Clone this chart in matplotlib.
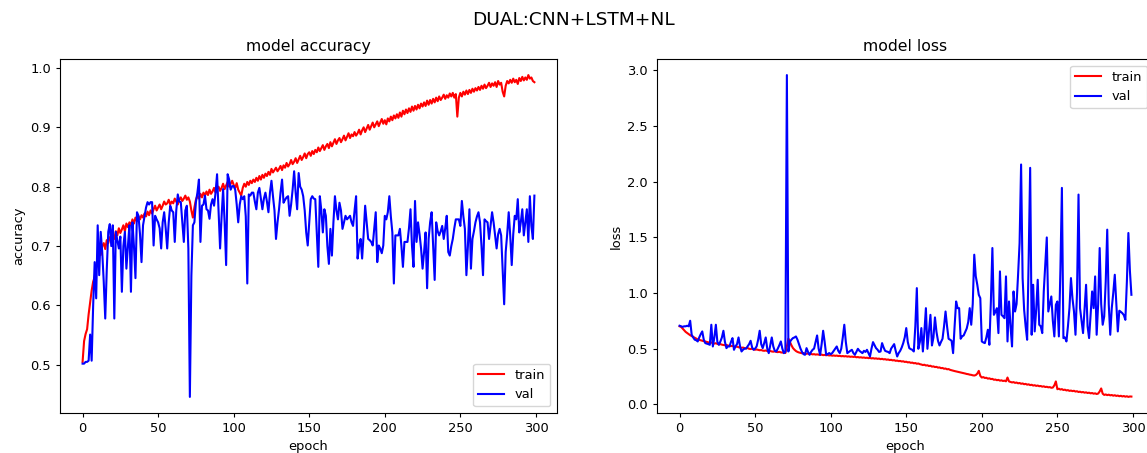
import numpy as np
import matplotlib
matplotlib.use('Agg')
import matplotlib.pyplot as plt

# accuracy per epoch
acc_train = [
    0.505, 0.540, 0.552, 0.560, 0.585, 0.605, 0.625, 0.640, 0.648, 0.665,
    0.680, 0.690, 0.685, 0.700, 0.705, 0.695, 0.710, 0.705, 0.715, 0.712,
    0.720, 0.712, 0.725, 0.718, 0.730, 0.722, 0.728, 0.735, 0.725, 0.738,
    0.732, 0.740, 0.735, 0.745, 0.738, 0.748, 0.742, 0.750, 0.745, 0.752,
    0.748, 0.755, 0.750, 0.758, 0.752, 0.760, 0.755, 0.762, 0.768, 0.760,
    0.765, 0.770, 0.762, 0.768, 0.775, 0.770, 0.772, 0.778, 0.770, 0.775,
    0.772, 0.780, 0.775, 0.770, 0.778, 0.782, 0.776, 0.780, 0.785, 0.778,
    0.782, 0.775, 0.760, 0.748, 0.765, 0.778, 0.785, 0.780, 0.788, 0.782,
    0.790, 0.785, 0.792, 0.786, 0.795, 0.788, 0.792, 0.798, 0.790, 0.796,
    0.800, 0.793, 0.798, 0.805, 0.796, 0.802, 0.808, 0.800, 0.805, 0.810,
    0.803, 0.798, 0.806, 0.795, 0.790, 0.785, 0.798, 0.805, 0.800, 0.808,
    0.803, 0.810, 0.806, 0.812, 0.808, 0.815, 0.810, 0.818, 0.812, 0.820,
    0.815, 0.822, 0.818, 0.825, 0.820, 0.830, 0.824, 0.828, 0.832, 0.826,
    0.830, 0.835, 0.828, 0.836, 0.832, 0.840, 0.834, 0.838, 0.845, 0.838,
    0.842, 0.848, 0.840, 0.846, 0.852, 0.845, 0.850, 0.856, 0.848, 0.855,
    0.858, 0.852, 0.860, 0.855, 0.862, 0.858, 0.866, 0.860, 0.865, 0.870,
    0.862, 0.868, 0.872, 0.865, 0.875, 0.868, 0.874, 0.880, 0.872, 0.878,
    0.882, 0.875, 0.880, 0.886, 0.878, 0.884, 0.890, 0.882, 0.888, 0.885,
    0.892, 0.886, 0.890, 0.896, 0.888, 0.895, 0.900, 0.892, 0.898, 0.904,
    0.896, 0.902, 0.908, 0.900, 0.905, 0.910, 0.902, 0.908, 0.914, 0.906,
    0.912, 0.905, 0.915, 0.910, 0.918, 0.912, 0.920, 0.915, 0.922, 0.916,
    0.925, 0.918, 0.928, 0.922, 0.930, 0.924, 0.932, 0.926, 0.935, 0.928,
    0.936, 0.930, 0.938, 0.932, 0.940, 0.935, 0.942, 0.936, 0.945, 0.938,
    0.946, 0.940, 0.948, 0.942, 0.950, 0.944, 0.952, 0.946, 0.950, 0.955,
    0.948, 0.954, 0.950, 0.957, 0.952, 0.958, 0.950, 0.956, 0.918, 0.950,
    0.958, 0.952, 0.960, 0.955, 0.962, 0.956, 0.963, 0.958, 0.965, 0.960,
    0.966, 0.962, 0.968, 0.963, 0.970, 0.965, 0.972, 0.966, 0.970, 0.975,
    0.968, 0.974, 0.970, 0.976, 0.968, 0.978, 0.972, 0.975, 0.960, 0.952,
    0.970, 0.978, 0.974, 0.980, 0.975, 0.982, 0.976, 0.980, 0.973, 0.983,
    0.978, 0.985, 0.979, 0.984, 0.980, 0.988, 0.982, 0.984, 0.978, 0.976,
]
acc_val = [
    0.502, 0.502, 0.505, 0.505, 0.507, 0.551, 0.507, 0.600, 0.673, 0.612,
    0.735, 0.651, 0.724, 0.690, 0.640, 0.578, 0.660, 0.724, 0.737, 0.700,
    0.735, 0.578, 0.724, 0.710, 0.696, 0.716, 0.623, 0.700, 0.724, 0.662,
    0.700, 0.735, 0.623, 0.740, 0.700, 0.646, 0.757, 0.751, 0.720, 0.673,
    0.735, 0.750, 0.765, 0.774, 0.770, 0.774, 0.774, 0.701, 0.751, 0.745,
    0.740, 0.730, 0.696, 0.740, 0.757, 0.730, 0.696, 0.740, 0.768, 0.760,
    0.757, 0.707, 0.760, 0.787, 0.775, 0.774, 0.740, 0.707, 0.760, 0.768,
    0.696, 0.446, 0.650, 0.735, 0.740, 0.774, 0.790, 0.812, 0.707, 0.768,
    0.770, 0.785, 0.762, 0.760, 0.746, 0.770, 0.779, 0.768, 0.790, 0.821,
    0.760, 0.696, 0.750, 0.796, 0.740, 0.668, 0.821, 0.812, 0.795, 0.801,
    0.801, 0.795, 0.770, 0.740, 0.770, 0.784, 0.779, 0.784, 0.750, 0.637,
    0.787, 0.785, 0.790, 0.790, 0.775, 0.762, 0.790, 0.798, 0.780, 0.762,
    0.780, 0.790, 0.775, 0.757, 0.790, 0.810, 0.784, 0.760, 0.712, 0.740,
    0.762, 0.790, 0.812, 0.773, 0.778, 0.782, 0.784, 0.751, 0.770, 0.795,
    0.826, 0.790, 0.762, 0.823, 0.800, 0.795, 0.784, 0.760, 0.723, 0.701,
    0.740, 0.779, 0.784, 0.780, 0.779, 0.720, 0.665, 0.784, 0.760, 0.723,
    0.762, 0.751, 0.700, 0.670, 0.729, 0.684, 0.740, 0.784, 0.760, 0.745,
    0.773, 0.760, 0.729, 0.740, 0.751, 0.745, 0.748, 0.751, 0.740, 0.734,
    0.760, 0.784, 0.679, 0.700, 0.712, 0.679, 0.720, 0.768, 0.740, 0.712,
    0.710, 0.707, 0.701, 0.730, 0.757, 0.673, 0.701, 0.696, 0.688, 0.701,
    0.751, 0.745, 0.757, 0.784, 0.750, 0.723, 0.637, 0.718, 0.718, 0.718,
    0.729, 0.700, 0.665, 0.707, 0.707, 0.707, 0.730, 0.762, 0.700, 0.665,
    0.776, 0.707, 0.740, 0.720, 0.696, 0.662, 0.690, 0.723, 0.629, 0.712,
    0.740, 0.757, 0.700, 0.643, 0.740, 0.725, 0.718, 0.725, 0.734, 0.712,
    0.730, 0.751, 0.690, 0.684, 0.700, 0.712, 0.730, 0.745, 0.745, 0.745,
    0.734, 0.776, 0.750, 0.729, 0.651, 0.700, 0.762, 0.662, 0.712, 0.725,
    0.740, 0.750, 0.757, 0.740, 0.700, 0.651, 0.745, 0.742, 0.740, 0.712,
    0.735, 0.757, 0.740, 0.718, 0.696, 0.720, 0.729, 0.718, 0.660, 0.602,
    0.690, 0.720, 0.757, 0.718, 0.668, 0.720, 0.751, 0.745, 0.779, 0.723,
    0.740, 0.762, 0.718, 0.740, 0.762, 0.707, 0.784, 0.734, 0.712, 0.785,
]

# loss per epoch
loss_train = [
    0.700, 0.695, 0.680, 0.665, 0.650, 0.640, 0.630, 0.620, 0.612, 0.605,
    0.598, 0.590, 0.582, 0.578, 0.575, 0.570, 0.566, 0.563, 0.560, 0.556,
    0.552, 0.555, 0.548, 0.545, 0.548, 0.542, 0.538, 0.540, 0.535, 0.532,
    0.530, 0.533, 0.527, 0.525, 0.522, 0.524, 0.518, 0.515, 0.518, 0.512,
    0.510, 0.507, 0.509, 0.504, 0.502, 0.505, 0.498, 0.496, 0.499, 0.493,
    0.490, 0.492, 0.488, 0.485, 0.487, 0.482, 0.480, 0.483, 0.478, 0.476,
    0.478, 0.474, 0.472, 0.475, 0.470, 0.468, 0.471, 0.466, 0.464, 0.466,
    0.460, 0.520, 0.590, 0.560, 0.530, 0.505, 0.490, 0.478, 0.470, 0.465,
    0.462, 0.458, 0.460, 0.455, 0.453, 0.456, 0.450, 0.452, 0.448, 0.450,
    0.446, 0.448, 0.445, 0.443, 0.446, 0.441, 0.443, 0.440, 0.442, 0.438,
    0.440, 0.436, 0.438, 0.435, 0.437, 0.433, 0.435, 0.431, 0.433, 0.430,
    0.432, 0.428, 0.430, 0.426, 0.428, 0.425, 0.427, 0.422, 0.424, 0.420,
    0.422, 0.418, 0.420, 0.416, 0.418, 0.414, 0.416, 0.412, 0.414, 0.410,
    0.412, 0.408, 0.410, 0.405, 0.408, 0.403, 0.405, 0.400, 0.402, 0.397,
    0.399, 0.394, 0.396, 0.390, 0.392, 0.387, 0.389, 0.384, 0.386, 0.380,
    0.382, 0.376, 0.378, 0.372, 0.374, 0.368, 0.370, 0.364, 0.366, 0.360,
    0.357, 0.352, 0.355, 0.348, 0.350, 0.343, 0.346, 0.338, 0.340, 0.334,
    0.336, 0.329, 0.331, 0.324, 0.326, 0.319, 0.321, 0.314, 0.316, 0.309,
    0.305, 0.302, 0.298, 0.295, 0.292, 0.288, 0.285, 0.282, 0.279, 0.276,
    0.272, 0.270, 0.266, 0.264, 0.260, 0.258, 0.262, 0.275, 0.300, 0.255,
    0.240, 0.244, 0.236, 0.238, 0.230, 0.233, 0.226, 0.228, 0.220, 0.222,
    0.216, 0.219, 0.212, 0.215, 0.209, 0.212, 0.206, 0.240, 0.205, 0.200,
    0.196, 0.199, 0.192, 0.195, 0.188, 0.191, 0.184, 0.187, 0.180, 0.183,
    0.176, 0.179, 0.172, 0.175, 0.168, 0.171, 0.165, 0.168, 0.162, 0.164,
    0.158, 0.161, 0.155, 0.157, 0.152, 0.154, 0.148, 0.150, 0.170, 0.205,
    0.135, 0.140, 0.132, 0.136, 0.128, 0.131, 0.124, 0.127, 0.120, 0.123,
    0.118, 0.121, 0.114, 0.117, 0.110, 0.113, 0.107, 0.110, 0.104, 0.107,
    0.101, 0.104, 0.098, 0.101, 0.095, 0.098, 0.092, 0.096, 0.115, 0.142,
    0.095, 0.084, 0.088, 0.082, 0.086, 0.080, 0.083, 0.077, 0.081, 0.075,
    0.078, 0.072, 0.076, 0.070, 0.074, 0.068, 0.072, 0.066, 0.070, 0.069,
]
loss_val = [
    0.705, 0.700, 0.695, 0.700, 0.700, 0.705, 0.700, 0.750, 0.624, 0.600,
    0.580, 0.575, 0.564, 0.600, 0.630, 0.654, 0.580, 0.549, 0.545, 0.540,
    0.534, 0.714, 0.519, 0.600, 0.714, 0.560, 0.534, 0.564, 0.600, 0.660,
    0.560, 0.504, 0.520, 0.519, 0.560, 0.594, 0.489, 0.520, 0.540, 0.600,
    0.520, 0.474, 0.490, 0.500, 0.500, 0.520, 0.540, 0.570, 0.510, 0.489,
    0.500, 0.520, 0.580, 0.660, 0.540, 0.504, 0.550, 0.600, 0.500, 0.459,
    0.530, 0.600, 0.520, 0.480, 0.474, 0.500, 0.530, 0.564, 0.500, 0.459,
    0.470, 2.956, 0.474, 0.560, 0.580, 0.594, 0.600, 0.609, 0.580, 0.540,
    0.500, 0.470, 0.450, 0.444, 0.504, 0.470, 0.444, 0.470, 0.489, 0.500,
    0.560, 0.618, 0.500, 0.444, 0.540, 0.660, 0.560, 0.444, 0.450, 0.460,
    0.449, 0.460, 0.480, 0.500, 0.519, 0.480, 0.459, 0.500, 0.600, 0.714,
    0.560, 0.459, 0.470, 0.480, 0.489, 0.460, 0.444, 0.470, 0.498, 0.480,
    0.470, 0.459, 0.480, 0.470, 0.489, 0.460, 0.429, 0.500, 0.558, 0.530,
    0.504, 0.490, 0.470, 0.474, 0.549, 0.510, 0.480, 0.474, 0.470, 0.459,
    0.500, 0.520, 0.540, 0.480, 0.429, 0.460, 0.480, 0.510, 0.549, 0.600,
    0.684, 0.560, 0.504, 0.495, 0.489, 0.474, 0.700, 1.043, 0.498, 0.560,
    0.684, 0.474, 0.650, 0.863, 0.498, 0.650, 0.803, 0.528, 0.600, 0.780,
    0.650, 0.570, 0.528, 0.560, 0.588, 0.700, 0.833, 0.700, 0.588, 0.580,
    0.570, 0.459, 0.700, 0.923, 0.863, 0.863, 0.588, 0.610, 0.618, 0.648,
    0.680, 0.738, 0.863, 0.714, 0.900, 1.343, 1.150, 1.074, 0.983, 0.953,
    0.564, 0.555, 0.549, 0.600, 0.669, 0.534, 0.923, 1.403, 0.803, 0.830,
    0.863, 0.639, 1.193, 0.803, 0.790, 0.773, 1.148, 0.564, 0.923, 0.700,
    0.519, 1.013, 0.833, 0.900, 1.163, 1.448, 2.153, 1.133, 0.850, 0.700,
    0.579, 1.300, 2.123, 0.624, 1.073, 0.654, 0.850, 1.118, 0.714, 0.700,
    0.639, 1.013, 1.250, 1.498, 0.833, 0.900, 0.968, 0.750, 0.609, 0.893,
    0.923, 0.609, 1.200, 1.943, 0.594, 0.600, 0.564, 0.700, 0.863, 1.133,
    0.950, 0.833, 0.624, 1.000, 1.883, 0.863, 0.750, 0.639, 0.850, 1.073,
    0.700, 0.594, 0.800, 1.013, 0.863, 1.148, 0.624, 0.900, 1.403, 0.900,
    0.714, 0.788, 1.100, 1.568, 0.900, 0.624, 0.863, 1.000, 1.163, 0.900,
    0.654, 0.840, 0.830, 0.818, 0.800, 0.758, 1.100, 1.538, 1.200, 0.983,
]

epochs = np.arange(len(acc_train))

# the reference looks like it was drawn a bit smaller than 100 dpi
plt.rcParams['font.size'] = 9.4
plt.rcParams['xtick.major.size'] = 3.2
plt.rcParams['ytick.major.size'] = 3.2
plt.rcParams['xtick.major.pad'] = 3.2
plt.rcParams['ytick.major.pad'] = 3.2
plt.rcParams['axes.labelpad'] = 3.5

fig = plt.figure(figsize=(11.47, 4.53), dpi=100)
ax1 = fig.add_axes([0.0523, 0.0883, 0.4333, 0.7815])
ax2 = fig.add_axes([0.5728, 0.0883, 0.4333, 0.7815])

ax1.plot(epochs, acc_train, 'r', label='train')
ax1.plot(epochs, acc_val, 'b', label='val')
ax1.set_title('model accuracy', fontsize=11.3, pad=5.5)
ax1.set_xlabel('epoch')
ax1.set_ylabel('accuracy')
ax1.legend(loc='lower right')

ax2.plot(epochs, loss_train, 'r', label='train')
ax2.plot(epochs, loss_val, 'b', label='val')
ax2.set_title('model loss', fontsize=11.3, pad=5.5)
ax2.set_xlabel('epoch')
ax2.set_ylabel('loss')
ax2.legend(loc='upper right')

fig.suptitle('DUAL:CNN+LSTM+NL', fontsize=13.3, y=0.975)

fig.savefig('out.png', dpi=100)
